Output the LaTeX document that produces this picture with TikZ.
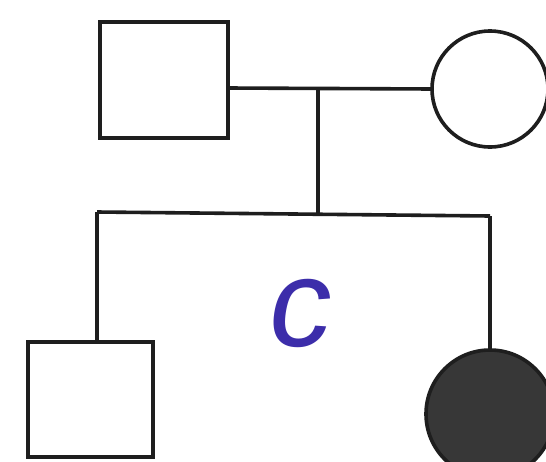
\documentclass[tikz,border=0pt]{standalone}
\usepackage{fontspec}
\newfontfamily\handfont{Liberation Sans}
\definecolor{ink}{RGB}{30,30,30}
\definecolor{affected}{RGB}{55,55,55}
\definecolor{pen}{RGB}{60,45,170}
\begin{document}
\begin{tikzpicture}[x=1pt,y=-1pt,
  line width=3.6pt,
  male/.style={draw=ink, rectangle, inner sep=0pt, outer sep=0pt},
  female/.style={draw=ink, circle, inner sep=0pt, outer sep=0pt},
  link/.style={draw=ink}]
\useasboundingbox (0,0) rectangle (546,461);
\fill[white] (0,0) rectangle (546,461);
\clip (0,0) rectangle (546,461);
% parents
\node[male, minimum width=128pt, minimum height=116pt] (father) at (164,80) {};
\node[female, minimum size=116pt] (mother) at (490,89) {};
% children
\node[male, minimum width=125pt, minimum height=115pt] (son) at (90.5,399.5) {};
\node[female, fill=affected, minimum size=128pt] (daughter) at (490,414) {};
% connectors
\coordinate (m) at (318,88);
\coordinate (s) at (318,213);
\coordinate (sibL) at (97,212);
\coordinate (sibR) at (490,216);
\draw[link] (father.east |- m) -- (mother.west);
\draw[link] (m) -- (s);
\draw[link] (sibL) -- (sibR);
\draw[link] (sibL) -- (son.north -| sibL);
\draw[link] (sibR) -- (daughter.north);
% handwritten mark
\node[text=pen, inner sep=0pt, xslant=0.15] (mark) at (301,313) {\handfont\fontsize{125}{125}\selectfont c};
\end{tikzpicture}
\end{document}
